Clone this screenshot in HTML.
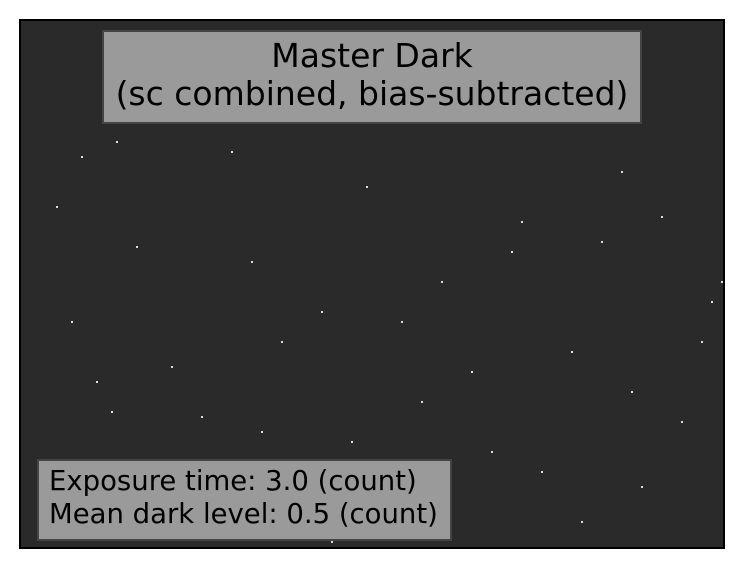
<!DOCTYPE html>
<html><head><meta charset="utf-8"><style>
body{margin:0;width:743px;height:568px;background:#fff;overflow:hidden;font-family:"DejaVu Sans","Liberation Sans",sans-serif;}
#img{position:absolute;left:19px;top:19px;width:702px;height:526px;background:#2a2a2a;border:2px solid #000;}
.box{position:absolute;background:#9a9a9a;border:2px solid #444;color:#000;box-sizing:border-box;}
</style></head><body>
<div id="img">
<svg id="stars" width="702" height="526" style="position:absolute;left:0;top:0"></svg>
</div>
<div class="box" style="left:102px;top:30px;width:540px;height:94px;text-align:center;font-size:33px;line-height:38px;padding-top:5px;white-space:nowrap;">
<div>Master Dark</div>
<div>(sc combined, bias-subtracted)</div>
</div>
<div class="box" style="left:37px;top:459px;width:415px;height:82px;font-size:27.5px;line-height:33px;padding:4px 0 0 10px;white-space:nowrap;">
<div>Exposure time: 3.0 (count)</div>
<div>Mean dark level: 0.5 (count)</div>
</div>
<script>
const starX=[160,60,95,35,210,345,115,230,640,690,580,500,420,300,260,150,75,550,610,660,400,330,180,470,520,270,130,620,700,380,450,90,240,560,680,200,310,490,600,50];
const starY=[30,135,120,185,130,165,225,240,195,280,220,200,260,290,320,345,360,330,370,400,380,420,395,430,450,470,480,465,260,300,350,390,410,500,320,500,520,230,150,300];
const svg=document.getElementById('stars');
for(let i=0;i<starX.length;i++){
  const r=document.createElementNS('http://www.w3.org/2000/svg','rect');
  r.setAttribute('x',starX[i]);r.setAttribute('y',starY[i]);
  r.setAttribute('width',2);r.setAttribute('height',2);r.setAttribute('fill','#ddd');
  
  
  svg.appendChild(r);
}
</script>
</body></html>
